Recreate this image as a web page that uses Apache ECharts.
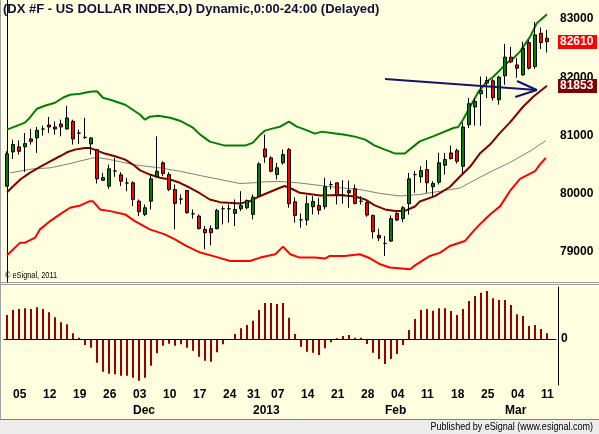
<!DOCTYPE html>
<html>
<head>
<meta charset="utf-8">
<script src="https://cdn.jsdelivr.net/npm/echarts@6/dist/echarts.min.js"></script>
<style>
html, body { margin: 0; padding: 0; background: #ffffe0; }
#chart { width: 599px; height: 434px; }
</style>
</head>
<body>
<div id="chart"></div>
<script>
// trading days shown on the chart
var dates = [
    '2012-11-02',
    '2012-11-05', '2012-11-06', '2012-11-07', '2012-11-08', '2012-11-09',
    '2012-11-12', '2012-11-13', '2012-11-14', '2012-11-15', '2012-11-16',
    '2012-11-19', '2012-11-20', '2012-11-21', '2012-11-22', '2012-11-23',
    '2012-11-26', '2012-11-27', '2012-11-28', '2012-11-29', '2012-11-30',
    '2012-12-03', '2012-12-04', '2012-12-05', '2012-12-06', '2012-12-07',
    '2012-12-10', '2012-12-11', '2012-12-12', '2012-12-13', '2012-12-14',
    '2012-12-17', '2012-12-18', '2012-12-19', '2012-12-20', '2012-12-21',
    '2012-12-24', '2012-12-26', '2012-12-27', '2012-12-28',
    '2012-12-31', '2013-01-02', '2013-01-03', '2013-01-04',
    '2013-01-07', '2013-01-08', '2013-01-09', '2013-01-10', '2013-01-11',
    '2013-01-14', '2013-01-15', '2013-01-16', '2013-01-17', '2013-01-18',
    '2013-01-21', '2013-01-22', '2013-01-23', '2013-01-24', '2013-01-25',
    '2013-01-28', '2013-01-29', '2013-01-30', '2013-01-31', '2013-02-01',
    '2013-02-04', '2013-02-05', '2013-02-06', '2013-02-07', '2013-02-08',
    '2013-02-11', '2013-02-12', '2013-02-13', '2013-02-14', '2013-02-15',
    '2013-02-18', '2013-02-19', '2013-02-20', '2013-02-21', '2013-02-22',
    '2013-02-25', '2013-02-26', '2013-02-27', '2013-02-28', '2013-03-01',
    '2013-03-04', '2013-03-05', '2013-03-06', '2013-03-07', '2013-03-08',
    '2013-03-11', '2013-03-12'
];

// [open, close, low, high]
var candles = [
    [80129, 80684, 80115, 80728], [80718, 80843, 80598, 80928], [80804, 80728, 80672, 80916],
    [80804, 80860, 80376, 81043], [80940, 80899, 80843, 81112], [80958, 81088, 80701, 81146],
    [81110, 81110, 80997, 81168], [81180, 81146, 81043, 81317], [81146, 81112, 81014, 81242],
    [81197, 81146, 80985, 81271], [81112, 81300, 81100, 81511], [81242, 80940, 80843, 81271],
    [81040, 81040, 80855, 81100], [80968, 80968, 80940, 81300], [80855, 80958, 80672, 80970],
    [80757, 80256, 80175, 80769], [80232, 80278, 80215, 80358], [80130, 80427, 80084, 80500],
    [80390, 80390, 80290, 80615], [80324, 80215, 80130, 80369], [80185, 80185, 80043, 80273],
    [80187, 79901, 79787, 80215], [79872, 79690, 79615, 79901], [79645, 79759, 79615, 79816],
    [79872, 80256, 79730, 80329], [80290, 80386, 80285, 80985], [80530, 80346, 80300, 80557],
    [80330, 80072, 80043, 80370], [80072, 79833, 79388, 80158], [79908, 79908, 79816, 79987],
    [80055, 79674, 79657, 80055], [79655, 79655, 79571, 79730], [79616, 79400, 79388, 79645],
    [79388, 79331, 79045, 79444], [79400, 79331, 79114, 79456], [79400, 79713, 79388, 79742],
    [79742, 79742, 79473, 79787], [79742, 79742, 79502, 79816], [79662, 79730, 79445, 79901],
    [79742, 79799, 79701, 80043], [79759, 79884, 79730, 79901], [79645, 79941, 79559, 79987],
    [79958, 80512, 79955, 80540], [80769, 80632, 80530, 81014], [80615, 80386, 80369, 80643],
    [80329, 80444, 80244, 80530], [80530, 80672, 80500, 80757], [80757, 79828, 79759, 80786],
    [79862, 79627, 79502, 79936], [79552, 79552, 79417, 79662], [79547, 79828, 79456, 79970],
    [79776, 79867, 79644, 79958], [79799, 79718, 79644, 79930], [79776, 80119, 79730, 80273],
    [80157, 80157, 80072, 80215], [80187, 79975, 79816, 80187], [79972, 79972, 79828, 80232],
    [80055, 80016, 79759, 80227], [80084, 79833, 79816, 80158], [79870, 79870, 79816, 79960],
    [79845, 79633, 79605, 79884], [79627, 79348, 79228, 79644], [79285, 79239, 79187, 79400],
    [79147, 79147, 78931, 79273], [79187, 79571, 79170, 79627], [79662, 79547, 79530, 79684],
    [79571, 79759, 79513, 79787], [79828, 80256, 79640, 80358], [80327, 80327, 80016, 80386],
    [80290, 80398, 80187, 80471], [80415, 80187, 80016, 80574], [80119, 80175, 79958, 80215],
    [80198, 80530, 80158, 80701], [80489, 80586, 80329, 80701], [80701, 80603, 80586, 80826],
    [80740, 80557, 80518, 80774], [80471, 81146, 80346, 81225], [81185, 81545, 81129, 81642],
    [81488, 81584, 81168, 81642], [81716, 81772, 81168, 82012], [81899, 81944, 81642, 82012],
    [81939, 81648, 81596, 81973], [81613, 82002, 81528, 82024], [82024, 82344, 81870, 82572],
    [82344, 82264, 82242, 82521], [82212, 82156, 81990, 82327], [82041, 82498, 82024, 82611],
    [82594, 82156, 82132, 82640], [82183, 82726, 82144, 82949], [82755, 82594, 82486, 82854],
    [82670, 82610, 82423, 82812]
];

// bands and averages, [bar index, price] read at the bends
var upperBand = [
    [0, 81100], [3, 81220], [3.8, 81305], [5, 81459], [6.3, 81511], [8, 81562], [9.3, 81648],
    [10.5, 81699], [12.2, 81716], [13.8, 81750], [15, 81759], [16, 81648], [17.2, 81613],
    [19.7, 81528], [22.2, 81356], [23, 81271], [23.8, 81322], [25.2, 81339], [27.2, 81305],
    [28.8, 81254], [31, 81134], [32.2, 81014], [33.8, 80894], [36.3, 80826], [39.7, 80826],
    [41, 80877], [42.2, 81014], [43, 81083], [44.2, 81117], [45.5, 81151], [47, 81237],
    [48.3, 81151], [49.7, 81100], [51.3, 81031], [52.5, 81066], [53.8, 81048], [56.3, 81014],
    [58, 80980], [59.7, 80928], [61.3, 80826], [63, 80757], [64.7, 80689], [66.3, 80689],
    [67.5, 80791], [68.8, 80899], [71, 80985], [74.4, 81129], [75.2, 81146], [76, 81271],
    [77.2, 81499], [78.6, 81755], [80, 81927], [81.1, 82012], [82.2, 82127], [83.3, 82242],
    [84.4, 82327], [85.5, 82440], [87.2, 82697], [88.3, 82926], [90, 83080]
];
var middleBand = [
    [0, 80026], [2.2, 80244], [3.8, 80358], [5.5, 80461], [7.2, 80557], [8.8, 80643],
    [10, 80711], [11.3, 80757], [13, 80786], [13.8, 80786], [15, 80740], [16.3, 80689],
    [18, 80643], [19.7, 80586], [21, 80500], [22.2, 80401], [23.8, 80329], [25.5, 80273],
    [27.2, 80244], [28.8, 80187], [30.5, 80102], [32.2, 80004], [33.8, 79901], [35.5, 79855],
    [38.8, 79833], [40.5, 79872], [42.2, 79961], [43.8, 80030], [45.5, 80102], [46.3, 80133],
    [47.7, 80072], [48.8, 80016], [52.2, 79970], [55.5, 79978], [58, 79953], [59.7, 79901],
    [61.3, 79799], [63, 79730], [64.7, 79704], [66.3, 79704], [68, 79781], [68.8, 79867],
    [71.3, 79958], [73.8, 80115], [75.5, 80295], [77.2, 80466], [78.8, 80689], [80.5, 80843],
    [82.2, 81048], [83.8, 81220], [86, 81493], [87.7, 81665], [90, 81853]
];
var lowerBand = [
    [0, 78943], [2.2, 79160], [3, 79160], [4.7, 79246], [5.5, 79388], [7.2, 79530],
    [8.8, 79644], [10.5, 79759], [12.2, 79799], [13.8, 79872], [14.3, 79872], [15.5, 79730],
    [17.2, 79701], [19.7, 79644], [21.3, 79530], [23.8, 79388], [26.3, 79302], [28, 79216],
    [29.7, 79114], [32.2, 78989], [34.7, 78920], [37.2, 78845], [40.5, 78845], [42.2, 78903],
    [44.7, 78960], [46, 79091], [47.2, 78960], [48.8, 78903], [51.3, 78903], [53, 78886],
    [53.8, 78931], [56.3, 78931], [58.8, 78960], [60.5, 78891], [62.2, 78788], [63.8, 78732],
    [67.2, 78703], [68, 78771], [70.5, 78931], [72.2, 78989], [73.8, 79102], [76.3, 79187],
    [78, 79388], [78.8, 79473], [80.5, 79644], [82.2, 79787], [83.8, 80043], [85.5, 80256],
    [88, 80386], [88.8, 80500], [89.8, 80615]
];
var slowAverage = [
    [0.5, 80358], [4.3, 80427], [7.2, 80444], [10.5, 80518], [14.3, 80615], [15.5, 80615],
    [17.2, 80586], [21, 80500], [22.2, 80483], [25.5, 80444], [28.8, 80386], [32.2, 80312],
    [35.5, 80244], [38.8, 80175], [41, 80187], [43, 80204], [45.5, 80209], [48.8, 80184],
    [52.2, 80141], [55.5, 80102], [58.8, 80072], [62.2, 80004], [65.5, 79961], [68.8, 79987],
    [72.2, 80043], [75.5, 80098], [77.2, 80192], [80.5, 80372], [83.8, 80535], [87.2, 80732],
    [89.8, 80911]
];

// lower panel oscillator
var histogram = [
    24, 29, 30, 30.7, 30, 31.7, 30, 26.7, 21.7, 16.7, 14.7, 5.7, 1.3, -6, -8.7, -23.7,
    -32.7, -34.7, -35.3, -36.7, -36.7, -38.7, -41.7, -38.7, -26.7, -14.3, -6.7, -4.7, -6.7,
    -5.3, -8.7, -11.7, -17.7, -21.7, -22.7, -13.3, -5.3, 0, 5, 10.7, 14, 18.3, 29, 36, 36,
    35, 36, 21.3, 5, -7.7, -12.7, -13.7, -16, -9.3, -3.3, 0.7, 3, 4, 1.3, 1.3, -5, -13.7,
    -20, -25, -20, -15, -6, 9, 20, 29, 30, 28.3, 30.7, 30.7, 28, 24, 30, 38, 43, 46.3, 48,
    40.7, 39, 39, 34, 24.7, 23, 13, 14, 10, 5.7
];

var priceTicks = [79000, 80000, 81000, 82000, 83000];
var lastClose = 82610;
var lastMiddle = 81853;
var arrowShaft = [[63, 81970], [88.3, 81781]];
var arrowHead = [[85, 81935], [88.3, 81781], [84.7, 81661]];
var monthLabels = { '12': 'Dec', '01': '2013', '02': 'Feb', '03': 'Mar' };

var FONT = '"Liberation Sans", Arial, sans-serif';

function isWeekStart(i) {
    var d = dates[i];
    if (!d) return false;
    var p = d.split('-');
    return new Date(+p[0], +p[1] - 1, +p[2]).getDay() === 1;
}
function isMonthStart(i) {
    return i > 0 && !!dates[i] && dates[i].slice(5, 7) !== dates[i - 1].slice(5, 7);
}

var chart = echarts.init(document.getElementById('chart'));

var baseGraphic = [
    { type: 'line', shape: { x1: 0.5, y1: 0, x2: 0.5, y2: 420 }, style: { stroke: '#a0a0a0', lineWidth: 1 } },
    { type: 'line', shape: { x1: 0, y1: 282.5, x2: 599, y2: 282.5 }, style: { stroke: '#a0a0a0', lineWidth: 1 } },
    { type: 'line', shape: { x1: 0, y1: 284.5, x2: 599, y2: 284.5 }, style: { stroke: '#a0a0a0', lineWidth: 1 } },
    { type: 'rect', shape: { x: 0, y: 420, width: 599, height: 14 }, style: { fill: '#ececec' } },
    { type: 'line', shape: { x1: 0, y1: 419.5, x2: 599, y2: 419.5 }, style: { stroke: '#808080', lineWidth: 1 } },
    {
        type: 'text', x: 3, y: 3,
        style: {
            text: '(DX #F - US DOLLAR INDEX,D) Dynamic,0:00-24:00 (Delayed)',
            fill: '#10103c', font: 'bold 13px ' + FONT
        }
    },
    {
        type: 'text', x: 5, y: 271, scaleX: 0.82,
        style: { text: '\u00a9 eSignal, 2011', fill: '#000', font: '9px ' + FONT }
    },
    {
        type: 'text', x: 593, y: 421, scaleX: 0.82,
        style: { text: 'Published by eSignal (www.esignal.com)', fill: '#000', font: '11px ' + FONT, align: 'right' }
    }
];

var option = {
    backgroundColor: '#ffffe0',
    animation: false,
    grid: [
        { left: 4, top: 0, width: 552, height: 282 },
        { left: 4, top: 287, width: 552, height: 98 }
    ],
    xAxis: [
        { type: 'category', gridIndex: 0, data: dates, max: 91, show: false },
        {
            type: 'category', gridIndex: 1, data: dates, max: 91, position: 'bottom',
            axisLine: { lineStyle: { color: '#000', width: 1 } },
            axisTick: {
                alignWithLabel: true, length: 3, lineStyle: { color: '#000' },
                interval: function (i) { return isWeekStart(i) || isMonthStart(i); }
            },
            axisLabel: {
                interval: function (i) { return isWeekStart(i); },
                formatter: function (v, i) { return isWeekStart(i) ? v.slice(8) : ''; },
                align: 'left', margin: 4, color: '#000',
                fontFamily: FONT, fontSize: 12, fontWeight: 'bold'
            },
            splitLine: { show: false }
        },
        {
            type: 'category', gridIndex: 1, data: dates, max: 91, position: 'bottom', offset: 16,
            axisLine: { show: false }, axisTick: { show: false },
            axisLabel: {
                interval: function (i) { return isMonthStart(i); },
                formatter: function (v, i) { return isMonthStart(i) ? monthLabels[v.slice(5, 7)] : ''; },
                align: 'left', margin: 4, color: '#000',
                fontFamily: FONT, fontSize: 12, fontWeight: 'bold'
            },
            splitLine: { show: false }
        },
        { type: 'value', gridIndex: 0, min: -0.5, max: 91.5, show: false }
    ],
    yAxis: [
        {
            type: 'value', gridIndex: 0, position: 'right', offset: 2,
            min: 78484, max: 83326,
            axisLine: { show: true, lineStyle: { color: '#000', width: 1 } },
            axisTick: { show: false },
            splitLine: { show: false },
            axisLabel: {
                customValues: priceTicks, margin: 2, color: '#000',
                formatter: function (v) { return String(v); },
                fontFamily: FONT, fontSize: 12, fontWeight: 'bold'
            }
        },
        {
            type: 'value', gridIndex: 1, position: 'right', offset: 2,
            min: -46, max: 52,
            axisLine: { show: true, lineStyle: { color: '#000', width: 1 } },
            axisTick: { show: false },
            splitLine: { show: false },
            axisLabel: {
                customValues: [0], margin: 3, color: '#000',
                formatter: function (v) { return String(v); },
                fontFamily: FONT, fontSize: 12, fontWeight: 'bold'
            }
        }
    ],
    series: [
        {
            name: 'lower', type: 'line', xAxisIndex: 3, yAxisIndex: 0, data: lowerBand,
            symbol: 'none', lineStyle: { color: '#ff0000', width: 2 }, z: 1
        },
        {
            name: 'upper', type: 'line', xAxisIndex: 3, yAxisIndex: 0, data: upperBand,
            symbol: 'none', lineStyle: { color: '#008000', width: 2 }, z: 1
        },
        {
            name: 'slow', type: 'line', xAxisIndex: 3, yAxisIndex: 0, data: slowAverage,
            symbol: 'none', lineStyle: { color: '#808080', width: 1 }, z: 1
        },
        {
            name: 'middle', type: 'line', xAxisIndex: 3, yAxisIndex: 0, data: middleBand,
            symbol: 'none', lineStyle: { color: '#800000', width: 2 }, z: 1
        },
        {
            name: 'DX', type: 'candlestick', xAxisIndex: 0, yAxisIndex: 0, data: candles,
            barWidth: 4, z: 3,
            itemStyle: {
                color: '#008000', color0: '#ff0000',
                borderColor: '#000', borderColor0: '#000', borderColorDoji: '#000',
                borderWidth: 1
            }
        },
        {
            name: 'arrow', type: 'line', xAxisIndex: 3, yAxisIndex: 0, data: arrowShaft,
            symbol: 'none', lineStyle: { color: '#14146e', width: 2 }, z: 4
        },
        {
            name: 'arrowHead', type: 'line', xAxisIndex: 3, yAxisIndex: 0, data: arrowHead,
            symbol: 'none', lineStyle: { color: '#14146e', width: 2 }, z: 4
        },
        {
            name: 'osc', type: 'bar', xAxisIndex: 1, yAxisIndex: 1, data: histogram,
            barWidth: 2, itemStyle: { color: '#990000' },
            markLine: {
                silent: true, symbol: 'none', animation: false, label: { show: false },
                lineStyle: { color: '#000', width: 1, type: 'solid' },
                data: [{ yAxis: 0 }]
            }
        }
    ],
    graphic: baseGraphic
};

chart.setOption(option);

// price tags on the right axis, placed through the price scale
function priceTag(value, bg) {
    var y = chart.convertToPixel({ yAxisIndex: 0 }, value);
    return [
        { type: 'rect', z: 100, shape: { x: 558, y: Math.round(y) - 7, width: 39, height: 14 }, style: { fill: bg } },
        {
            type: 'text', z: 101, x: 560, y: Math.round(y),
            style: { text: String(value), fill: '#fff', font: 'bold 12px ' + FONT, verticalAlign: 'middle' }
        }
    ];
}
chart.setOption({
    graphic: baseGraphic.concat(priceTag(lastClose, '#ff0000'), priceTag(lastMiddle, '#800000'))
});
</script>
</body>
</html>
